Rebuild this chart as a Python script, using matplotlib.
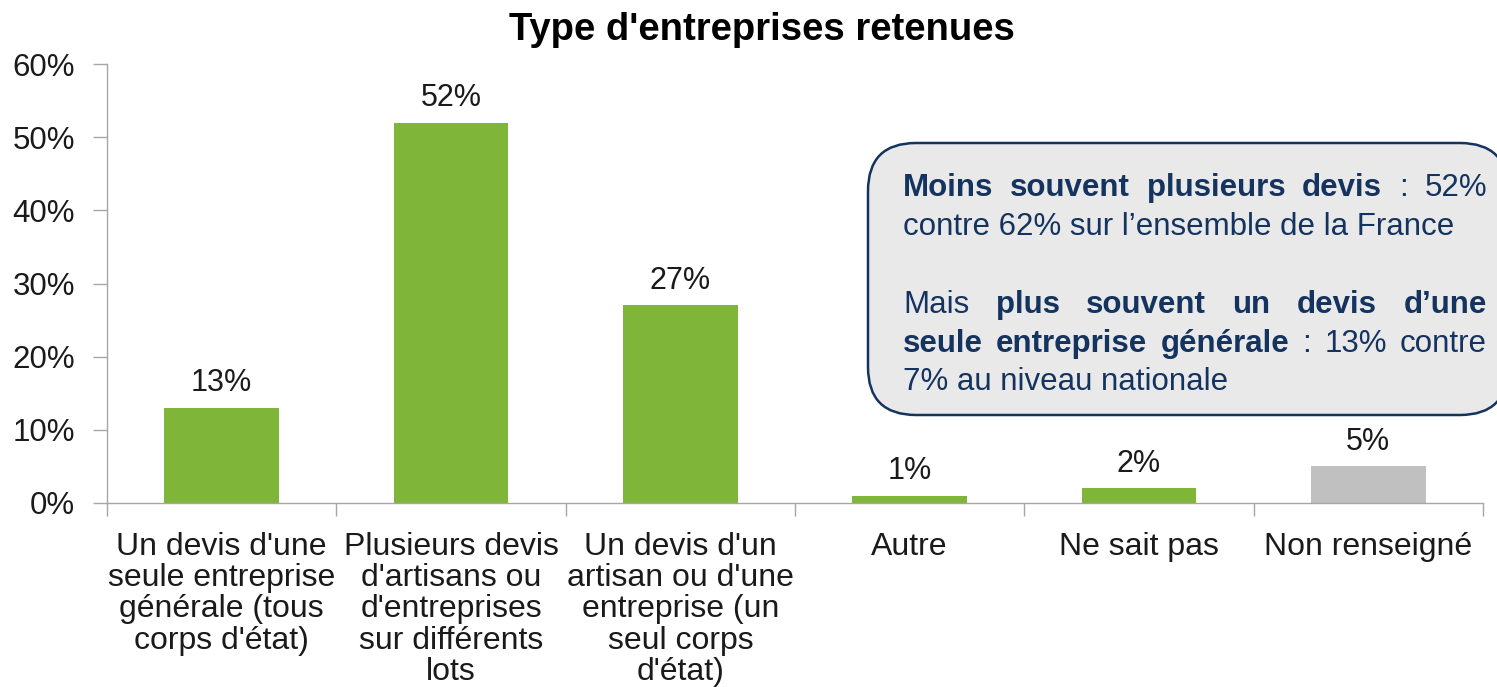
import matplotlib
matplotlib.use("Agg")
import matplotlib.pyplot as plt
import numpy as np
from matplotlib.patches import FancyBboxPatch
from matplotlib.transforms import IdentityTransform
from matplotlib.ticker import FixedLocator, PercentFormatter

plt.rcParams['font.family'] = ['Liberation Sans', 'DejaVu Sans']

categories = [
    "Un devis d'une\nseule entreprise\ngénérale (tous\ncorps d'état)",
    "Plusieurs devis\nd'artisans ou\nd'entreprises\nsur différents\nlots",
    "Un devis d'un\nartisan ou d'une\nentreprise (un\nseul corps\nd'état)",
    "Autre",
    "Ne sait pas",
    "Non renseigné",
]
values = [13, 52, 27, 1, 2, 5]
bar_colors = ["#7FB539", "#7FB539", "#7FB539", "#7FB539", "#7FB539", "#C0C0C0"]
y_ticks = [0, 10, 20, 30, 40, 50, 60]

# callout text: list of lines, each line a list of (word, bold); justify flag
callout_lines = [
    ([("Moins", True), ("souvent", True), ("plusieurs", True), ("devis", True),
      (":", False), ("52%", False)], True),
    ([("contre 62% sur l’ensemble de la France", False)], False),
    ([("Mais", False), ("plus", True), ("souvent", True), ("un", True),
      ("devis", True), ("d’une", True)], True),
    ([("seule", True), ("entreprise", True), ("générale", True), (":", False),
      ("13%", False), ("contre", False)], True),
    ([("7% au niveau nationale", False)], False),
]
callout_baselines = [196, 235, 313, 352, 390]  # image pixel rows

W, H = 1497, 687
fig = plt.figure(figsize=(W / 100, H / 100), dpi=100)
ax = fig.add_axes([107 / W, 1 - 503 / H, (1483 - 107) / W, (503 - 64) / H])

x = np.arange(len(categories))
bars = ax.bar(x, values, width=0.5, color=bar_colors, zorder=2)
for xi, v in zip(x, values):
    ax.annotate(f"{v}%", (xi, v), xytext=(0, 7), textcoords="offset points",
                ha="center", va="bottom", fontsize=22, color="#1a1a1a")

ax.set_xlim(-0.5, len(categories) - 0.5)
ax.set_ylim(0, 60)
ax.yaxis.set_major_locator(FixedLocator(y_ticks))
ax.yaxis.set_major_formatter(PercentFormatter(decimals=0))
ax.set_xticks(x)
ax.set_xticklabels(categories, fontsize=23, linespacing=1.05, color="#1a1a1a")
ax.set_xticks(np.arange(len(categories) + 1) - 0.5, minor=True)
ax.tick_params(axis="x", which="major", length=0, pad=21)
ax.tick_params(axis="x", which="minor", length=9, width=1, color="#A6A6A6", direction="out")
ax.tick_params(axis="y", length=10, width=1, color="#A6A6A6", pad=13,
               labelsize=22.5, labelcolor="#1a1a1a")
for s in ["top", "right"]:
    ax.spines[s].set_visible(False)
for s in ["left", "bottom"]:
    ax.spines[s].set_color("#A6A6A6")
    ax.spines[s].set_linewidth(1)

fig.text(762 / W, 1 - 30 / H, "Type d'entreprises retenues", ha="center", va="center",
         fontsize=27.5, fontweight="bold", color="#000000")

# callout box in pixel coordinates
box = FancyBboxPatch((868, H - 415), 640, 272,
                     boxstyle="round,pad=0,rounding_size=48",
                     transform=IdentityTransform(), facecolor="#E9E9E9",
                     edgecolor="#15335F", linewidth=1.8, zorder=5)
fig.add_artist(box)

txt_color = "#15335F"
left, right = 903, 1487
fig.canvas.draw()
renderer = fig.canvas.get_renderer()
for (words, justify), yb in zip(callout_lines, callout_baselines):
    items = []
    for w, b in words:
        t = fig.text(0, 0, w, transform=IdentityTransform(), ha="left", va="baseline",
                     fontsize=22.5, fontweight="bold" if b else "normal",
                     color=txt_color, zorder=6)
        items.append(t)
    widths = [t.get_window_extent(renderer).width for t in items]
    if justify and len(items) > 1:
        gap = (right - left - sum(widths)) / (len(items) - 1)
    else:
        gap = 0
    xpos = left
    for t, wd in zip(items, widths):
        t.set_position((xpos, H - yb))
        xpos += wd + gap

fig.savefig("out.png", dpi=100)
